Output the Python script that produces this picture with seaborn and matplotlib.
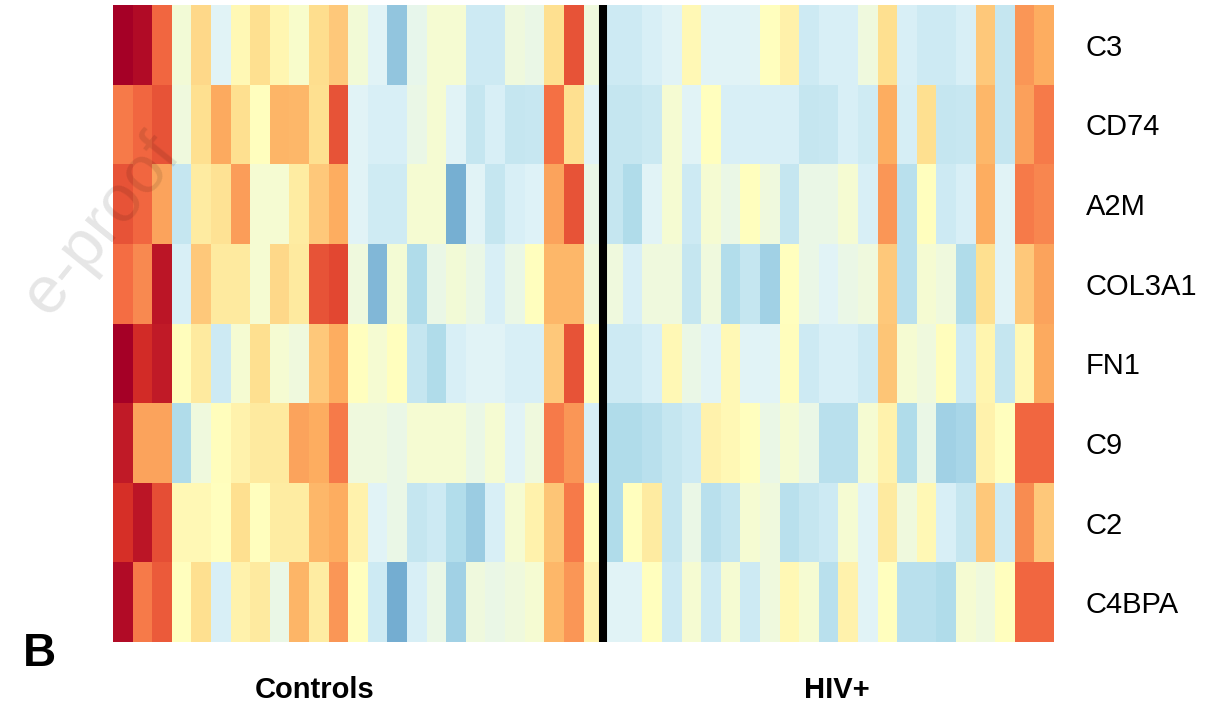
import numpy as np
import pandas as pd
import matplotlib
matplotlib.use("Agg")
import matplotlib.pyplot as plt
import seaborn as sns

# Gene names (rows) and scaled expression (0 = low/blue, 5 = mid/yellow, 10 = high/red)
genes = ["C3", "CD74", "A2M", "COL3A1", "FN1", "C9", "C2", "C4BPA"]
n_controls = 25
n_hiv = 23
group_labels = ["Controls", "HIV+"]

c3 = [10, 9.75, 8.1, 4.6, 6.15, 4.05, 5.2, 6.0, 5.3, 4.8, 6.05, 6.45, 4.6,
      4.05, 2.55, 4.25, 4.65, 4.65, 3.65, 3.65, 4.47, 4.3, 6.0, 8.4, 4.47,
      3.65, 3.65, 3.85, 4.05, 5.2, 4.05, 4.05, 4.05, 5.0, 5.45, 3.65, 3.85,
      3.85, 4.47, 6.0, 3.85, 3.65, 3.65, 3.85, 6.45, 3.5, 7.35, 7.0]
cd74 = [7.8, 8.1, 8.4, 4.47, 6.0, 7.05, 6.0, 5.0, 6.85, 6.8, 6.0, 8.4, 4.05,
        3.85, 3.85, 4.3, 4.65, 4.05, 3.5, 3.85, 3.5, 3.55, 7.95, 6.0, 4.05,
        3.5, 3.5, 3.6, 4.65, 4.05, 5.0, 3.85, 3.85, 3.85, 3.85, 3.5, 3.55,
        3.85, 3.7, 7.0, 3.8, 6.0, 3.5, 3.55, 6.8, 3.5, 7.2, 7.8]
a2m = [8.4, 8.1, 7.15, 3.5, 5.65, 5.9, 7.25, 4.65, 4.65, 5.6, 6.45, 7.0, 4.05,
       3.7, 3.7, 4.65, 4.65, 2.05, 4.05, 3.5, 3.85, 3.95, 7.15, 8.4, 4.3,
       3.5, 3.1, 4.05, 4.65, 3.65, 4.65, 4.3, 5.0, 4.47, 3.5, 4.3, 4.3,
       4.65, 3.85, 7.35, 3.25, 5.0, 3.65, 3.85, 7.0, 4.05, 7.8, 7.6]
col3a1 = [8.0, 7.55, 9.55, 3.85, 6.45, 5.7, 5.7, 4.65, 6.15, 5.7, 8.4, 8.6, 4.47,
          2.25, 4.62, 3.1, 4.3, 4.6, 4.3, 3.85, 4.3, 5.0, 6.8, 6.8, 4.47,
          4.47, 3.85, 4.47, 4.47, 3.5, 4.47, 3.15, 3.5, 2.85, 5.0, 4.3, 4.05,
          4.3, 4.47, 6.45, 3.25, 4.65, 4.47, 3.1, 6.0, 4.05, 6.45, 7.15]
fn1 = [10, 9.1, 9.45, 5.05, 5.7, 3.65, 4.65, 6.0, 4.65, 4.47, 6.45, 7.0, 5.0,
       4.65, 5.0, 3.5, 3.1, 3.85, 4.05, 4.05, 3.85, 3.85, 6.45, 8.4, 5.0,
       3.65, 3.65, 3.85, 5.2, 4.3, 4.05, 5.2, 4.05, 4.05, 5.05, 3.65, 3.85,
       3.85, 3.65, 6.55, 4.65, 4.47, 5.05, 3.65, 5.35, 3.5, 5.2, 7.05]
c9 = [9.45, 7.15, 7.15, 3.1, 4.47, 5.05, 5.4, 5.7, 5.7, 7.15, 7.0, 7.8, 4.47,
      4.47, 4.3, 4.65, 4.65, 4.65, 4.3, 4.65, 4.05, 4.47, 7.8, 7.35, 3.85,
      3.1, 3.1, 3.25, 3.5, 3.65, 5.4, 5.2, 5.0, 4.3, 4.65, 4.3, 3.25,
      3.25, 4.65, 5.4, 3.1, 4.3, 2.85, 2.95, 5.4, 5.0, 8.1, 8.1]
c2 = [9.0, 9.55, 8.5, 5.2, 5.2, 5.0, 6.0, 5.0, 5.6, 5.6, 6.8, 7.0, 5.4,
      4.05, 4.3, 3.5, 3.65, 3.15, 2.7, 3.85, 4.65, 5.4, 6.55, 7.8, 5.0,
      3.1, 5.0, 5.65, 3.5, 4.3, 3.25, 3.5, 4.65, 4.47, 3.25, 3.5, 3.65,
      4.65, 4.05, 5.7, 4.47, 5.2, 3.85, 3.5, 6.45, 3.65, 7.5, 6.45]
c4bpa = [9.75, 7.8, 8.3, 5.0, 6.0, 3.85, 5.4, 5.7, 4.3, 6.85, 5.6, 7.35, 5.0,
         3.65, 2.0, 3.85, 4.3, 2.85, 4.47, 4.3, 4.47, 4.65, 6.8, 7.35, 5.4,
         4.05, 4.05, 5.0, 3.65, 4.65, 3.65, 4.65, 3.65, 4.47, 5.2, 4.65, 3.25,
         5.4, 4.05, 5.0, 3.25, 3.25, 3.1, 4.65, 4.47, 5.0, 8.1, 8.1]

rows = [c3, cd74, a2m, col3a1, fn1, c9, c2, c4bpa]
samples = [f"Ctrl{i+1}" for i in range(n_controls)] + [f"HIV{i+1}" for i in range(n_hiv)]
df = pd.DataFrame(rows, index=genes, columns=samples)

sns.set_theme(style="white")
plt.rcParams["font.family"] = ["Liberation Sans", "DejaVu Sans"]

W, H = 1212, 709
fig = plt.figure(figsize=(W / 100, H / 100), dpi=100)
ax = fig.add_axes([113 / W, 1 - 642 / H, (1054 - 113) / W, (642 - 5) / H])

sns.heatmap(df, ax=ax, cmap="RdYlBu_r", vmin=0, vmax=10, cbar=False,
            xticklabels=False, yticklabels=True, linewidths=0)

ax.yaxis.tick_right()
ax.tick_params(axis="y", length=0, pad=23, labelsize=21, rotation=0,
               labelright=True, labelleft=False, labelcolor="black")
ax.set_xlabel("")
ax.set_ylabel("")

# Group separator
ax.axvline(n_controls, color="black", linewidth=5.8)

# Group labels
fig.text(314.5 / W, 1 - 690 / H, group_labels[0], ha="center", va="center",
         fontsize=21, fontweight="bold", color="black")
fig.text(836.5 / W, 1 - 690 / H, group_labels[1], ha="center", va="center",
         fontsize=21, fontweight="bold", color="black")

# Panel letter
fig.text(39 / W, 1 - 654 / H, "B", ha="center", va="center",
         fontsize=33, fontweight="bold", color="black")

# Faint watermark
fig.text(48 / W, 1 - 318 / H, "e-proof", ha="left", va="baseline",
         rotation=51, rotation_mode="anchor", fontsize=48, color="black",
         alpha=0.1, zorder=10)

fig.savefig("out.png", dpi=100)
